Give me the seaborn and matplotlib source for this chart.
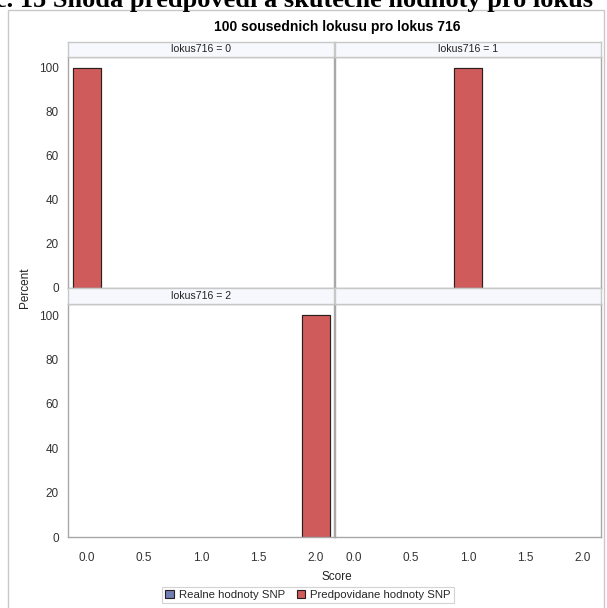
import matplotlib
matplotlib.use("Agg")
import matplotlib.pyplot as plt
import seaborn as sns
import pandas as pd
import numpy as np
from matplotlib.patches import Rectangle

sns.set_theme(style="white")
plt.rcParams['font.family'] = ['Liberation Sans', 'DejaVu Sans']

# ---- data ----
panel_values = [0, 1, 2]                 # lokus716 = 0, 1, 2
real_scores = [0, 1, 2]                  # actual SNP value per panel
real_percent = [100, 100, 100]
pred_scores = [0, 1, 2]                  # predicted SNP value per panel
pred_percent = [100, 100, 100]
x_ticks = [0.0, 0.5, 1.0, 1.5, 2.0]
y_ticks = [0, 20, 40, 60, 80, 100]
series_names = ["Realne hodnoty SNP", "Predpovidane hodnoty SNP"]
colors = ["#6F7EB3", "#D05B5B"]
title = "100 sousednich lokusu pro lokus 716"
doc_caption = "č. 15 Shoda předpovědí a skutečné hodnoty pro lokus"

W, H = 607, 608
fig = plt.figure(figsize=(W / 100, H / 100), dpi=100)
fig.patch.set_facecolor("white")

def fx(px):
    return px / W

def fy(py):
    return 1 - py / H

# outer frame
fig.patches.append(Rectangle((fx(8), fy(612)), fx(604) - fx(8), fy(10) - fy(612),
                             transform=fig.transFigure, fill=False,
                             edgecolor="#c8c8c8", lw=1.0))

# cut-off document caption
fig.text(fx(-5), fy(7), doc_caption, fontsize=19, fontweight="bold",
         family="Liberation Serif", color="black", va="baseline", ha="left")

fig.text(fx(337), fy(27), title, fontsize=10, fontweight="bold",
         ha="center", va="center", color="black")

cols_x = [(68, 334), (335, 601)]
rows_y = [(42, 57, 288), (288, 304, 537)]
grid_color = "#a8a8a8"
strip_color = "#F7F8FD"

tick_font = 8.5
strip_font = 7.6
for r, (sy0, sy1, py1) in enumerate(rows_y):
    for c, (px0, px1) in enumerate(cols_x):
        idx = r * 2 + c
        ax = fig.add_axes([fx(px0), fy(py1), fx(px1) - fx(px0), fy(sy1) - fy(py1)])
        ax.set_facecolor("white")
        # strip
        sax = fig.add_axes([fx(px0), fy(sy1), fx(px1) - fx(px0), fy(sy0) - fy(sy1)])
        sax.set_facecolor(strip_color)
        sax.set_xticks([]); sax.set_yticks([])
        for s in sax.spines.values():
            s.set_color("#c8c8c8"); s.set_linewidth(1.0)
        if idx < len(panel_values):
            sax.text(0.5, 0.5, f"lokus716 = {panel_values[idx]}", ha="center", va="center",
                     fontsize=strip_font, color="#222222", transform=sax.transAxes)
            df = pd.DataFrame({
                "Score": [real_scores[idx], pred_scores[idx]],
                "Percent": [real_percent[idx], pred_percent[idx]],
                "Series": series_names,
            })
            for k, name in enumerate(series_names):
                sub = df[df["Series"] == name]
                v = sub["Score"].iloc[0]
                sns.histplot(data=sub, x="Score", weights="Percent", ax=ax,
                             binwidth=0.245, binrange=(v - 0.1225, v + 0.1225),
                             color=colors[k], alpha=1.0, edgecolor="#2a1f1f",
                             linewidth=0.8)
        ax.set_xlim(-0.165, 2.16)
        ax.set_ylim(0, 105)
        ax.set_xlabel(""); ax.set_ylabel("")
        for s in ax.spines.values():
            s.set_color(grid_color); s.set_linewidth(1.0)
        ax.tick_params(axis="both", which="both", length=4.5, width=0.8,
                       color="#888888", labelsize=tick_font, labelcolor="#333333", pad=2)
        if c == 0:
            ax.set_yticks(y_ticks)
            ax.set_yticklabels([str(t) for t in y_ticks])
        else:
            ax.set_yticks([])
        if r == 1:
            ax.set_xticks(x_ticks)
            ax.set_xticklabels([f"{t:.1f}" for t in x_ticks])
            ax.tick_params(axis="x", pad=6)
        else:
            ax.set_xticks([])

fig.text(fx(25), fy(288), "Percent", rotation=90, ha="center", va="center",
         fontsize=tick_font, color="#222222")
fig.text(fx(337), fy(577), "Score", ha="center", va="center", fontsize=tick_font, color="#222222")

# legend
handles = [Rectangle((0, 0), 1, 1, facecolor=colors[k], edgecolor="#2a1f1f", lw=0.8)
           for k in range(2)]
leg = fig.legend(handles, series_names, loc="center", bbox_to_anchor=(fx(308), fy(595)),
                 ncol=2, fontsize=8.2, frameon=True, handlelength=0.75, handleheight=0.75,
                 handletextpad=0.45, columnspacing=1.0, borderpad=0.3, fancybox=False)
leg.get_frame().set_edgecolor("#c8c8c8")
leg.get_frame().set_linewidth(0.8)

fig.savefig("out.png", dpi=100)
